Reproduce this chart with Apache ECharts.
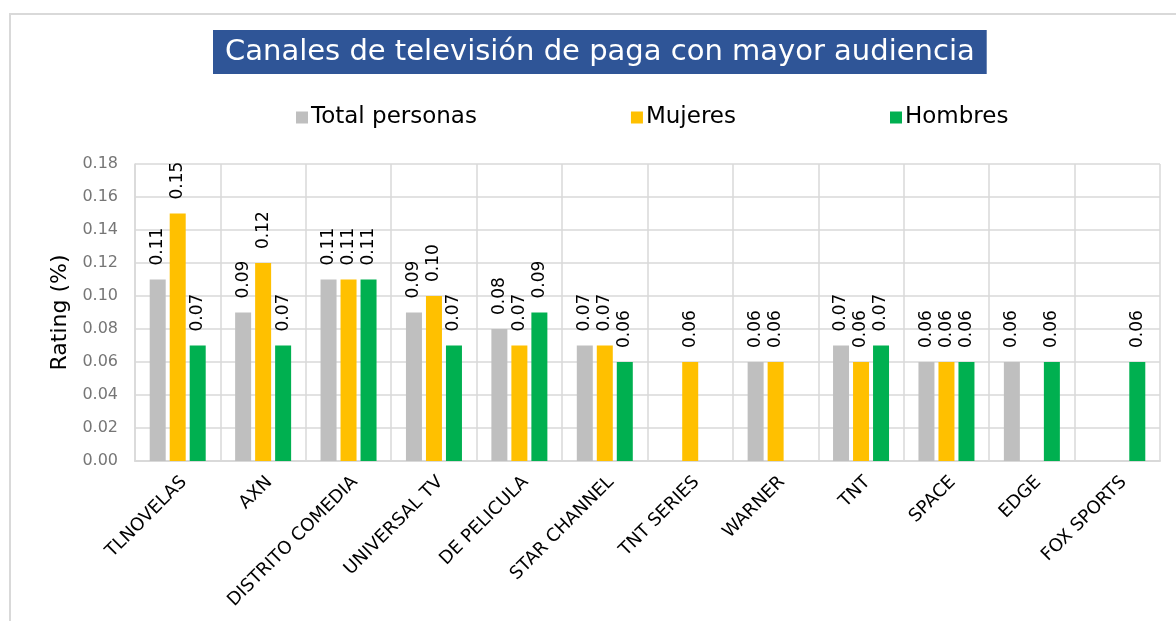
<!DOCTYPE html>
<html>
<head>
<meta charset="utf-8">
<script src="https://cdn.jsdelivr.net/npm/echarts@6/dist/echarts.min.js"></script>
<style>
  html, body { margin: 0; padding: 0; background: #ffffff; }
  #chart { width: 1176px; height: 621px; }
</style>
</head>
<body>
<div id="chart"></div>
<script>
const titleText = 'Canales de televisión de paga con mayor audiencia';
const yAxisName = 'Rating (%)';
const categories = ['TLNOVELAS', 'AXN', 'DISTRITO COMEDIA', 'UNIVERSAL TV', 'DE PELICULA', 'STAR CHANNEL', 'TNT SERIES', 'WARNER', 'TNT', 'SPACE', 'EDGE', 'FOX SPORTS'];
const seriesNames = ['Total personas', 'Mujeres', 'Hombres'];
const totalPersonas = [0.11, 0.09, 0.11, 0.09, 0.08, 0.07, null, 0.06, 0.07, 0.06, 0.06, null];
const mujeres = [0.15, 0.12, 0.11, 0.10, 0.07, 0.07, 0.06, 0.06, 0.06, 0.06, null, null];
const hombres = [0.07, 0.07, 0.11, 0.07, 0.09, 0.06, null, null, 0.07, 0.06, 0.06, 0.06];
const yMin = 0, yMax = 0.18, yStep = 0.02;

const colors = ['#bfbfbf', '#ffc000', '#00b050'];
const FONT = 'DejaVu Sans';

const chart = echarts.init(document.getElementById('chart'), null, { renderer: 'canvas' });

function makeSeries(name, data, color) {
  return {
    name: name,
    type: 'bar',
    data: data,
    barWidth: 16,
    barGap: '25%',
    itemStyle: { color: color },
    label: {
      show: true,
      position: 'top',
      rotate: 90,
      align: 'left',
      verticalAlign: 'middle',
      distance: 14,
      color: '#000000',
      fontFamily: FONT,
      fontSize: 17,
      formatter: p => (p.value == null ? '' : p.value.toFixed(2))
    }
  };
}

chart.setOption({
  animation: false,
  backgroundColor: '#ffffff',
  color: colors,
  title: {
    text: titleText,
    left: 213,
    top: 30,
    backgroundColor: '#2f5597',
    padding: [7, 12, 7, 12],
    textStyle: {
      color: '#ffffff',
      fontFamily: FONT,
      fontSize: 29,
      fontWeight: 'normal',
      lineHeight: 30
    }
  },
  legend: {
    left: 291,
    top: 101,
    itemWidth: 12,
    itemHeight: 12,
    itemGap: 154,
    icon: 'rect',
    textStyle: { color: '#000000', fontFamily: FONT, fontSize: 23, padding: [0, 0, 0, -2] },
    data: seriesNames
  },
  graphic: [{
    type: 'rect',
    shape: { x: 10, y: 14, width: 1400, height: 900 },
    style: { fill: 'none', stroke: '#d9d9d9', lineWidth: 2 },
    silent: true,
    z: -10
  }],
  grid: { left: 135, right: 16, top: 164, bottom: 160 },
  xAxis: {
    type: 'category',
    data: categories,
    boundaryGap: true,
    axisLine: { show: true, lineStyle: { color: '#d9d9d9', width: 2 } },
    axisTick: { show: false },
    splitLine: { show: true, lineStyle: { color: '#d9d9d9', width: 1.5 } },
    axisLabel: {
      rotate: 45,
      interval: 0,
      margin: 12,
      verticalAlign: 'top',
      color: '#000000',
      fontFamily: FONT,
      fontSize: 18
    }
  },
  yAxis: {
    type: 'value',
    min: yMin,
    max: yMax,
    interval: yStep,
    name: yAxisName,
    nameLocation: 'middle',
    nameGap: 63,
    nameTextStyle: { color: '#000000', fontFamily: FONT, fontSize: 22 },
    axisLine: { show: true, lineStyle: { color: '#d9d9d9', width: 1.5 } },
    axisTick: { show: false },
    splitLine: { show: true, lineStyle: { color: '#d9d9d9', width: 1.5 } },
    axisLabel: {
      margin: 17,
      color: '#767676',
      fontFamily: FONT,
      fontSize: 16,
      formatter: v => v.toFixed(2)
    }
  },
  series: [
    makeSeries(seriesNames[0], totalPersonas, colors[0]),
    makeSeries(seriesNames[1], mujeres, colors[1]),
    makeSeries(seriesNames[2], hombres, colors[2])
  ]
});
</script>
</body>
</html>
